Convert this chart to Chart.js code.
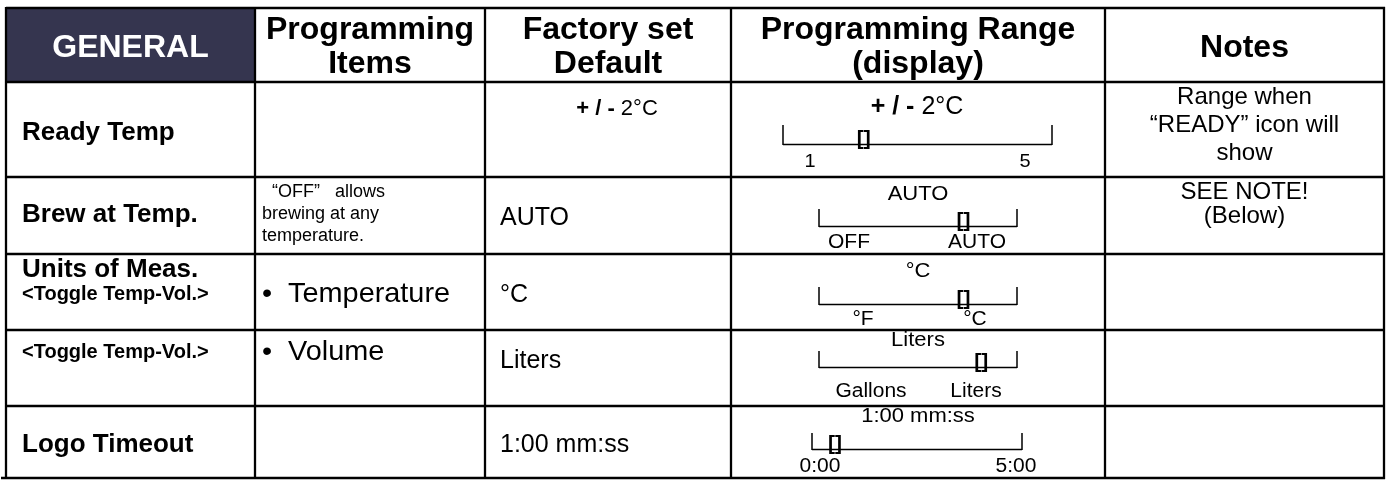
<!DOCTYPE html>
<html>
<head>
<meta charset="utf-8">
<script src="https://cdn.jsdelivr.net/npm/chart.js@4.4.0/dist/chart.umd.min.js"></script>
<style>
  html, body { margin: 0; padding: 0; background: #fff; }
  #wrap { width: 1390px; height: 481px; }
</style>
</head>
<body>
<div id="wrap"><canvas id="chart" width="1390" height="481"></canvas></div>
<script>
// table content
var headers = [["GENERAL"], ["Programming", "Items"], ["Factory set", "Default"], ["Programming Range", "(display)"], ["Notes"]];
var rowLabels = ["Ready Temp", "Brew at Temp.", "Units of Meas.", "<Toggle Temp-Vol.>", "Logo Timeout"];
var rowSubLabels = ["", "", "<Toggle Temp-Vol.>", "", ""];
var items = [[], ["  \u201cOFF\u201d   allows", "brewing at any", "temperature."], ["\u2022  Temperature"], ["\u2022  Volume"], []];
var defaults = ["+ / - 2\u00b0C", "AUTO", "\u00b0C", "Liters", "1:00 mm:ss"];
var rangeTitles = ["+ / - 2\u00b0C", "AUTO", "\u00b0C", "Liters", "1:00 mm:ss"];
var rangeMin = ["1", "OFF", "\u00b0F", "Gallons", "0:00"];
var rangeMax = ["5", "AUTO", "\u00b0C", "Liters", "5:00"];
var rangeSetting = [0.30, 0.73, 0.73, 0.82, 0.11];   // where the [] marker sits on the bar
var notes = [["Range when", "\u201cREADY\u201d icon will", "show"], ["SEE NOTE!", "(Below)"], [], [], []];

// layout of the grid
var colX = [6, 255, 485, 731, 1105, 1384];
var rowY = [8, 82, 177, 254, 330, 406, 478];
var FONT = "'Liberation Sans', Arial, sans-serif";
var NAVY = "#35354f";

var cell = {
  labelBase: [140, 222, 277, 358, 452],
  subBase: [0, 0, 300, 0, 0],
  itemBase: [[], [197, 219, 241], [302], [360], []],
  defBase: [115, 225, 302, 368, 452],
  titleBase: [114, 200, 277, 346, 422],
  slider: [[783, 1052, 125, 145], [819, 1017, 209, 227], [819, 1017, 287, 305], [819, 1017, 351, 368], [812, 1022, 433, 450]],
  minX: [810, 849, 863, 871, 820],
  maxX: [1025, 977, 975, 976, 1016],
  endBase: [167, 248, 325, 397, 472],
  noteBase: [[104, 132, 160], [199, 223], [], [], []]
};

function txt(ctx, s, x, y, size, bold, align, color, sx){
  ctx.save();
  ctx.font = (bold ? "bold " : "") + size + "px " + FONT;
  ctx.fillStyle = color || "#000";
  ctx.textAlign = align || "left";
  ctx.textBaseline = "alphabetic";
  ctx.translate(x, y);
  ctx.scale(sx || 1, 1);
  ctx.fillText(s, 0, 0);
  ctx.restore();
}

// "+ / -" part is bold in the source, the value is not
function plusMinus(ctx, s, cx, y, size){
  if (s.indexOf("+ / - ") !== 0) { txt(ctx, s, cx, y, size, false, "center"); return; }
  var a = "+ / - ", b = s.substring(6);
  ctx.save();
  ctx.font = "bold " + size + "px " + FONT;
  var wa = ctx.measureText(a).width;
  ctx.font = size + "px " + FONT;
  var wb = ctx.measureText(b).width;
  ctx.restore();
  var x0 = cx - (wa + wb) / 2;
  txt(ctx, a, x0, y, size, true, "left");
  txt(ctx, b, x0 + wa, y, size, false, "left");
}

var tablePlugin = {
  id: "tableGrid",
  afterDraw: function(chart){
    var ctx = chart.ctx, i, j;
    var nCol = headers.length, nRow = rowLabels.length;

    // header cell for the section
    ctx.fillStyle = NAVY;
    ctx.fillRect(colX[0], rowY[0], colX[1] - colX[0], rowY[1] - rowY[0]);

    // headers
    for (i = 0; i < nCol; i++) {
      var cx = (colX[i] + colX[i + 1]) / 2;
      var col = i === 0 ? "#fff" : "#000";
      if (headers[i].length === 1) {
        txt(ctx, headers[i][0], cx, 57, 32, true, "center", col);
      } else {
        txt(ctx, headers[i][0], cx, 39, 32, true, "center", col);
        txt(ctx, headers[i][1], cx, 73, 32, true, "center", col);
      }
    }

    for (j = 0; j < nRow; j++) {
      // first column
      var isSub = rowSubLabels[j] === "" && rowLabels[j].charAt(0) === "<";
      txt(ctx, rowLabels[j], 22, cell.labelBase[j], isSub ? 20 : 26, true, "left");
      if (rowSubLabels[j]) txt(ctx, rowSubLabels[j], 22, cell.subBase[j], 20, true, "left");

      // programming items
      for (i = 0; i < items[j].length; i++) {
        var small = items[j].length > 1;
        txt(ctx, items[j][i], 262, cell.itemBase[j][i], small ? 18 : 28, false, "left", null, small ? 1 : 1.03);
      }

      // factory default
      if (j === 0) plusMinus(ctx, defaults[j], 617, cell.defBase[j], 22);
      else txt(ctx, defaults[j], 500, cell.defBase[j], 25, false, "left");

      // range display: title, bar, marker, end labels
      var s = cell.slider[j];
      if (j === 0) plusMinus(ctx, rangeTitles[j], 917, cell.titleBase[j], 25);
      else txt(ctx, rangeTitles[j], 918, cell.titleBase[j], 20, false, "center", null, 1.1);

      ctx.save();
      ctx.strokeStyle = "#000";
      ctx.lineWidth = 1.5;
      ctx.beginPath();
      ctx.moveTo(s[0], s[2]); ctx.lineTo(s[0], s[3]);
      ctx.moveTo(s[0], s[3] - 0.5); ctx.lineTo(s[1], s[3] - 0.5);
      ctx.moveTo(s[1], s[2]); ctx.lineTo(s[1], s[3]);
      ctx.stroke();
      ctx.restore();

      var mx = s[0] + (s[1] - s[0]) * rangeSetting[j];
      txt(ctx, "[]", mx, s[3], 21, true, "center");

      var lsz = j === 0 ? 19 : 20;
      txt(ctx, rangeMin[j], cell.minX[j], cell.endBase[j], lsz, false, "center", null, 1.05);
      txt(ctx, rangeMax[j], cell.maxX[j], cell.endBase[j], lsz, false, "center", null, 1.05);

      // notes
      for (i = 0; i < notes[j].length; i++) {
        txt(ctx, notes[j][i], (colX[4] + colX[5]) / 2, cell.noteBase[j][i], 24, false, "center");
      }
    }

    // grid lines
    ctx.save();
    ctx.strokeStyle = "#000";
    ctx.lineWidth = 2.3;
    ctx.beginPath();
    for (i = 0; i < rowY.length; i++) {
      ctx.moveTo(i === rowY.length - 1 ? 1 : colX[0], rowY[i]);
      ctx.lineTo(colX[colX.length - 1] + 1, rowY[i]);
    }
    for (i = 0; i < colX.length; i++) {
      ctx.moveTo(colX[i], rowY[0] - 1);
      ctx.lineTo(colX[i], rowY[rowY.length - 1] + 1);
    }
    ctx.stroke();
    ctx.restore();
  }
};

new Chart(document.getElementById("chart"), {
  type: "bar",
  data: { labels: rowLabels, datasets: [] },
  options: {
    responsive: false,
    animation: false,
    events: [],
    layout: { padding: 0 },
    plugins: { legend: { display: false }, tooltip: { enabled: false } },
    scales: { x: { display: false }, y: { display: false } }
  },
  plugins: [tablePlugin]
});
</script>
</body>
</html>
